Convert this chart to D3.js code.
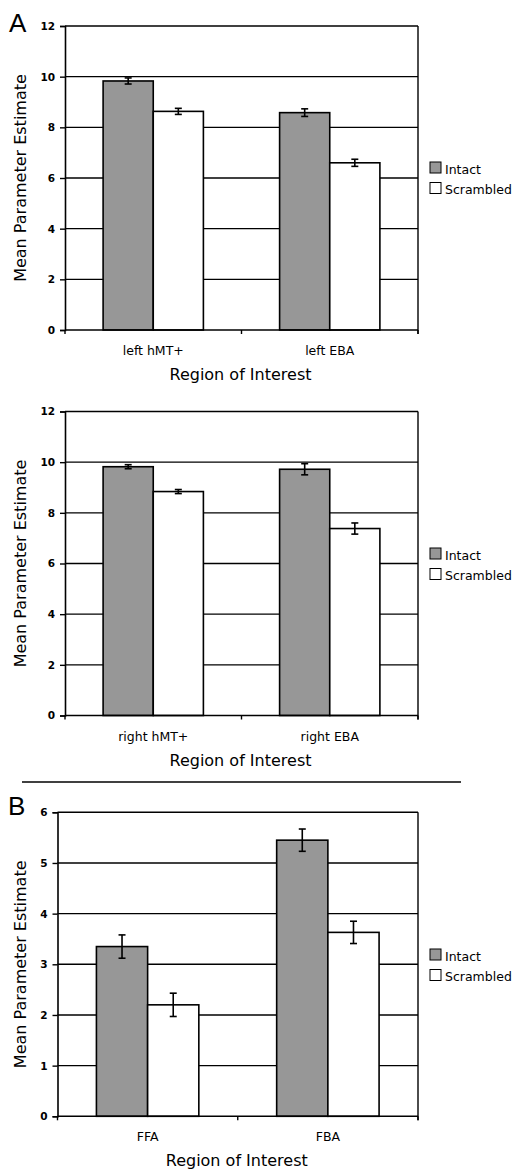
<!DOCTYPE html>
<html>
<head>
<meta charset="utf-8">
<script src="https://cdn.jsdelivr.net/npm/d3@7"></script>
<style>
  body { margin: 0; background: #fff; }
  text { font-family: "DejaVu Sans", Verdana, sans-serif; fill: #000; }
</style>
</head>
<body>
<div id="chart"></div>
<script>
    // data
    var seriesNames = ["Intact", "Scrambled"];
    var clrIntact = "#979797";
    var clrScrambled = "#ffffff";

    var catsA1 = ["left hMT+", "left EBA"];
    var intactA1 = [9.83, 8.58];
    var scrambledA1 = [8.63, 6.6];
    var intactErrA1 = [0.12, 0.15];
    var scrambledErrA1 = [0.12, 0.14];
    var ticksA = [0, 2, 4, 6, 8, 10, 12];

    var catsA2 = ["right hMT+", "right EBA"];
    var intactA2 = [9.82, 9.72];
    var scrambledA2 = [8.84, 7.38];
    var intactErrA2 = [0.08, 0.22];
    var scrambledErrA2 = [0.08, 0.22];

    var catsB = ["FFA", "FBA"];
    var intactB = [3.35, 5.45];
    var scrambledB = [2.2, 3.63];
    var intactErrB = [0.23, 0.22];
    var scrambledErrB = [0.23, 0.22];
    var ticksB = [0, 1, 2, 3, 4, 5, 6];

    var svg = d3.select("#chart").append("svg")
      .attr("width", 518)
      .attr("height", 1169);

    function drawPanel(o) {
      var rows = o.cats.map(function (c, i) {
        return { cat: c, vals: [o.intact[i], o.scrambled[i]], errs: [o.intactErr[i], o.scrambledErr[i]] };
      });
      var x = d3.scaleBand().domain(o.cats).range([o.left, o.right]);
      var xs = d3.scaleBand().domain(seriesNames).range([0, x.bandwidth()]).paddingInner(0).paddingOuter(0.76);
      var y = d3.scaleLinear().domain(d3.extent(o.ticks)).range([o.bottom, o.top]);
      var g = svg.append("g");

      // gridlines behind the bars
      g.selectAll(".grid").data(o.ticks.slice(1)).enter().append("line")
        .attr("x1", o.left).attr("x2", o.right)
        .attr("y1", function (d) { return y(d); }).attr("y2", function (d) { return y(d); })
        .attr("stroke", "#000").attr("stroke-width", 1.4);
      g.append("line")
        .attr("x1", o.right).attr("x2", o.right).attr("y1", o.top).attr("y2", o.bottom + 4)
        .attr("stroke", "#000").attr("stroke-width", 1.4);

      var yAxis = g.append("g")
        .attr("transform", "translate(" + o.left + ",0)")
        .call(d3.axisLeft(y).tickValues(o.ticks).tickSize(5).tickPadding(5).tickFormat(d3.format("d")));
      yAxis.select(".domain").attr("stroke-width", 1.6);
      yAxis.selectAll(".tick line").attr("stroke-width", 1.4);
      yAxis.selectAll("text").style("font-size", "10.5px").style("font-weight", "bold")
        .style("font-family", "'DejaVu Sans', Verdana, sans-serif");

      var groups = g.selectAll(".cat").data(rows).enter().append("g")
        .attr("transform", function (d) { return "translate(" + x(d.cat) + ",0)"; });
      groups.selectAll("rect").data(function (d) { return d.vals; }).enter().append("rect")
        .attr("x", function (d, i) { return xs(seriesNames[i]); })
        .attr("width", xs.bandwidth())
        .attr("y", function (d) { return y(d); })
        .attr("height", function (d) { return o.bottom - y(d); })
        .attr("fill", function (d, i) { return i === 0 ? clrIntact : clrScrambled; })
        .attr("stroke", "#000").attr("stroke-width", 1.6);

      // error bars
      groups.each(function (d) {
        var eg = d3.select(this);
        d.vals.forEach(function (v, i) {
          var cx = xs(seriesNames[i]) + xs.bandwidth() / 2;
          var lo = y(v - d.errs[i]), hi = y(v + d.errs[i]);
          eg.append("line").attr("x1", cx).attr("x2", cx).attr("y1", lo).attr("y2", hi)
            .attr("stroke", "#000").attr("stroke-width", 1.6);
          [lo, hi].forEach(function (yy) {
            eg.append("line").attr("x1", cx - 3.5).attr("x2", cx + 3.5).attr("y1", yy).attr("y2", yy)
              .attr("stroke", "#000").attr("stroke-width", 1.6);
          });
        });
      });

      var xAxis = g.append("g")
        .attr("transform", "translate(0," + o.bottom + ")");
      xAxis.append("line").attr("x1", o.left).attr("x2", o.right)
        .attr("stroke", "#000").attr("stroke-width", 1.6);
      var bounds = [o.left, o.left + x.bandwidth(), o.right];
      xAxis.selectAll(".tk").data(bounds).enter().append("line")
        .attr("x1", function (d) { return d; }).attr("x2", function (d) { return d; })
        .attr("y1", 0).attr("y2", 4).attr("stroke", "#000").attr("stroke-width", 1.4);
      xAxis.selectAll(".lbl").data(o.cats).enter().append("text")
        .attr("x", function (d) { return x(d) + x.bandwidth() / 2; })
        .attr("y", 25)
        .attr("text-anchor", "middle")
        .style("font-size", "12.5px")
        .text(function (d) { return d; });

      svg.append("text")
        .attr("x", (o.left + o.right) / 2 - 1)
        .attr("y", o.bottom + 50)
        .attr("text-anchor", "middle")
        .style("font-size", "16px")
        .text("Region of Interest");

      svg.append("text")
        .attr("transform", "translate(26," + (o.top + o.bottom) / 2 + ") rotate(-90)")
        .attr("text-anchor", "middle")
        .style("font-size", "16px")
        .text("Mean Parameter Estimate");

      // legend
      var lg = svg.append("g").attr("transform", "translate(430," + o.legendY + ")");
      var items = lg.selectAll("g").data(seriesNames).enter().append("g")
        .attr("transform", function (d, i) { return "translate(0," + i * 20.5 + ")"; });
      items.append("rect").attr("width", 11).attr("height", 11)
        .attr("fill", function (d, i) { return i === 0 ? clrIntact : clrScrambled; })
        .attr("stroke", "#000").attr("stroke-width", 1);
      items.append("text").attr("x", 15).attr("y", 11.5)
        .style("font-size", "12.5px")
        .text(function (d) { return d; });

      if (o.letter) {
        svg.append("text")
          .attr("x", o.letterX).attr("y", o.letterY)
          .style("font-family", "'Liberation Sans', Arial, sans-serif")
          .style("font-size", "26px")
          .text(o.letter);
      }
    }

    drawPanel({ cats: catsA1, intact: intactA1, scrambled: scrambledA1, intactErr: intactErrA1,
      scrambledErr: scrambledErrA1, ticks: ticksA, left: 65, right: 418, top: 26, bottom: 330,
      legendY: 162, letter: "A", letterX: 9, letterY: 32 });

    drawPanel({ cats: catsA2, intact: intactA2, scrambled: scrambledA2, intactErr: intactErrA2,
      scrambledErr: scrambledErrA2, ticks: ticksA, left: 65, right: 418, top: 411.5, bottom: 715.5,
      legendY: 548 });

    svg.append("line").attr("x1", 22).attr("x2", 461).attr("y1", 782).attr("y2", 782)
      .attr("stroke", "#000").attr("stroke-width", 1.5);

    drawPanel({ cats: catsB, intact: intactB, scrambled: scrambledB, intactErr: intactErrB,
      scrambledErr: scrambledErrB, ticks: ticksB, left: 57.5, right: 418, top: 812.3, bottom: 1116.3,
      legendY: 949, letter: "B", letterX: 8, letterY: 815 });
</script>
</body>
</html>
